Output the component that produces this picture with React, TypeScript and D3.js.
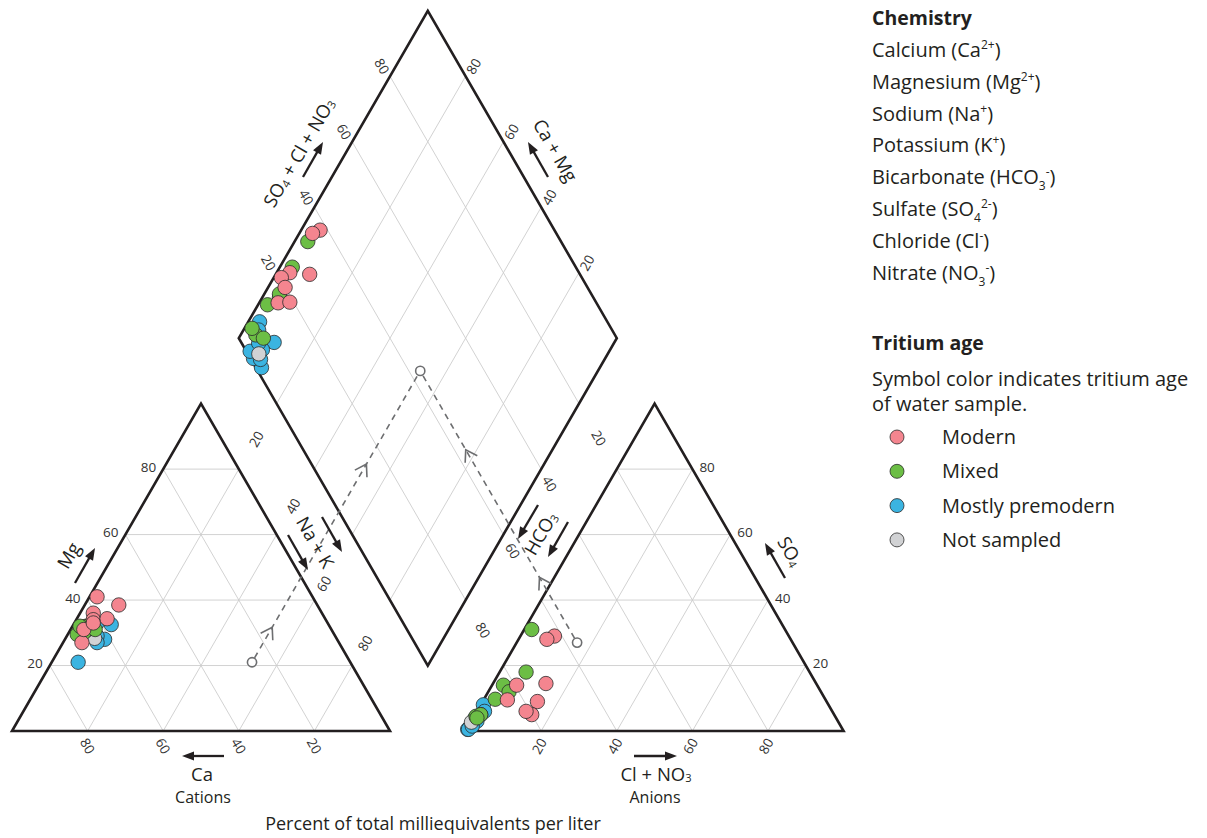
import React from 'react';
import * as d3 from 'd3';

// ---------- DATA ----------
const ageCategories = ['Modern', 'Mixed', 'Mostly premodern', 'Not sampled'];
const ageColors = ['#F4858F', '#6CBE45', '#3BB4E1', '#D1D2D4'];

// sample tritium-age category index (0 Modern, 1 Mixed, 2 Mostly premodern, 3 Not sampled)
const sampleAge = [0, 0, 0, 0, 0, 0, 0, 0, 1, 1, 1, 1, 1, 1, 1, 1, 2, 2, 2, 2, 2, 2, 2, 2, 2, 3];
// cations, percent of meq/L (Ca = 100 - Mg - NaK)
const sampleMg = [27, 36, 31, 38.5, 41, 34, 33, 34.3, 32, 30, 31, 30, 29.5, 32, 31, 32, 32.5, 28, 21, 31, 30, 29, 30, 27, 33, 28.3];
const sampleNaK = [5, 3.5, 3.5, 9, 2, 4.5, 5, 8, 3.5, 3.3, 4.5, 4, 2.5, 4, 6.5, 2, 10, 10.5, 7, 3, 4, 8, 5, 9, 6, 7.7];
// anions, percent of meq/L (HCO3 = 100 - SO4 - Cl)
const sampleSO4 = [29, 28, 9, 14.5, 14, 5, 9.5, 6, 31, 18, 14, 12, 9.7, 4.5, 5, 4, 8, 1, 0.5, 6, 5, 3, 0.5, 1.5, 4, 2.7];
const sampleCl = [9, 7.5, 14.5, 14, 6.5, 15, 6.3, 13, 2, 7, 3, 5.5, 3, 0.5, 1.5, 1, 0.7, 0.5, 0.3, 2, 1.5, 1.5, 0.5, 1, 0.5, 0.2];

// explanatory example point (dashed projection)
const exampleMg = 21;
const exampleNaK = 53;
const exampleSO4 = 27;
const exampleCl = 16;

const gridValues = [20, 40, 60, 80];
const tickLabels = ['20', '40', '60', '80'];

type Seg = { t: string; sup?: boolean; sub?: boolean };
const chemistryItems: Seg[][] = [
  [{ t: 'Calcium (Ca' }, { t: '2+', sup: true }, { t: ')' }],
  [{ t: 'Magnesium (Mg' }, { t: '2+', sup: true }, { t: ')' }],
  [{ t: 'Sodium (Na' }, { t: '+', sup: true }, { t: ')' }],
  [{ t: 'Potassium (K' }, { t: '+', sup: true }, { t: ')' }],
  [{ t: 'Bicarbonate (HCO' }, { t: '3', sub: true }, { t: '-', sup: true }, { t: ')' }],
  [{ t: 'Sulfate (SO' }, { t: '4', sub: true }, { t: '2-', sup: true }, { t: ')' }],
  [{ t: 'Chloride (Cl' }, { t: '-', sup: true }, { t: ')' }],
  [{ t: 'Nitrate (NO' }, { t: '3', sub: true }, { t: '-', sup: true }, { t: ')' }],
];

// ---------- GEOMETRY ----------
const FONT = "'Open Sans', 'Noto Sans', sans-serif";
const INK = '#231F20';
const GRIDC = '#CDCDCD';
const TICKC = '#333333';
const S = 378;
const H = (S * Math.sqrt(3)) / 2;
const GAP = 0.2 * S;
const X0 = 12;
const BASE = 731;
const SIN60 = Math.sqrt(3) / 2;
const LEG = 20;
const TICK = 13.5;
const TITLE = 18.5;

const xL = d3.scaleLinear().domain([0, 100]).range([X0, X0 + S]);
const xR = d3.scaleLinear().domain([0, 100]).range([X0 + S + GAP, X0 + 2 * S + GAP]);
const yT = d3.scaleLinear().domain([0, 100]).range([BASE, BASE - H]);
const dLeft: [number, number] = [X0 + S + GAP / 2 - S / 2, BASE - GAP * SIN60 - H];
const dU = d3.scaleLinear().domain([0, 100]).range([0, S / 2]);
const dV = d3.scaleLinear().domain([0, 100]).range([0, H]);

const cat = (mg: number, nak: number): [number, number] => [xL(nak + mg / 2), yT(mg)];
const ani = (so4: number, cl: number): [number, number] => [xR(cl + so4 / 2), yT(so4)];
const dia = (n: number, a: number): [number, number] => [dLeft[0] + dU(n) + dU(a), dLeft[1] + dV(n) - dV(a)];

function Arrow({ x1, y1, x2, y2 }: { x1: number; y1: number; x2: number; y2: number }) {
  const dx = x2 - x1, dy = y2 - y1, L = Math.hypot(dx, dy), ux = dx / L, uy = dy / L;
  const hl = 12, hw = 4.6;
  const bx = x2 - ux * hl, by = y2 - uy * hl;
  return (
    <g>
      <line x1={x1} y1={y1} x2={bx + ux * 2} y2={by + uy * 2} stroke={INK} strokeWidth={2.3} />
      <path d={`M${x2},${y2}L${bx - uy * hw},${by + ux * hw}L${bx + uy * hw},${by - ux * hw}Z`} fill={INK} />
    </g>
  );
}

function RText({ x, y, angle = 0, size = TICK, fill = TICKC, anchor = 'middle', children }: any) {
  return (
    <text
      transform={`translate(${x},${y}) rotate(${angle})`}
      textAnchor={anchor}
      dominantBaseline="central"
      fontSize={size}
      fill={fill}
      fontFamily={FONT}
    >
      {children}
    </text>
  );
}

function Chevron({ p0, p1, t }: { p0: [number, number]; p1: [number, number]; t: number }) {
  const dx = p1[0] - p0[0], dy = p1[1] - p0[1], L = Math.hypot(dx, dy), ux = dx / L, uy = dy / L;
  const px = p0[0] + dx * t, py = p0[1] + dy * t;
  const back = 11, side = 7;
  const a1 = [px - ux * back - uy * side, py - uy * back + ux * side];
  const a2 = [px - ux * back + uy * side, py - uy * back - ux * side];
  return (
    <path
      d={`M${a1[0]},${a1[1]}L${px},${py}L${a2[0]},${a2[1]}`}
      fill="none"
      stroke="#6D6E70"
      strokeWidth={1.6}
    />
  );
}

export default function App() {
  const order = [2, 3, 1, 0];
  const idx = d3.range(sampleAge.length).sort((a, b) => order.indexOf(sampleAge[a]) - order.indexOf(sampleAge[b]));

  const leftTri = [cat(0, 0), cat(0, 100), cat(100, 0)];
  const rightTri = [ani(0, 0), ani(0, 100), ani(100, 0)];
  const diamond = [dia(0, 0), dia(0, 100), dia(100, 100), dia(100, 0)];
  const poly = (pts: [number, number][]) => 'M' + pts.map((p) => p.join(',')).join('L') + 'Z';

  const grid: [number, number][][] = [];
  gridValues.forEach((v) => {
    grid.push([cat(v, 0), cat(v, 100 - v)]);
    grid.push([cat(0, v), cat(100 - v, v)]);
    grid.push([cat(0, 100 - v), cat(100 - v, 0)]);
    grid.push([ani(v, 0), ani(v, 100 - v)]);
    grid.push([ani(0, v), ani(100 - v, v)]);
    grid.push([ani(0, 100 - v), ani(100 - v, 0)]);
    grid.push([dia(v, 0), dia(v, 100)]);
    grid.push([dia(0, v), dia(100, v)]);
  });

  const up60: [number, number] = [0.5, -SIN60];
  const upL60: [number, number] = [-0.5, -SIN60];
  const leftGapShift = [-3, -5, -19, -12];
  const rightGapShift = [-2, 21, 19, 3];

  const exC = cat(exampleMg, exampleNaK);
  const exA = ani(exampleSO4, exampleCl);
  const exD = dia(exampleNaK, exampleSO4 + exampleCl);
  const trim = (p0: [number, number], p1: [number, number], r: number): [number, number] => {
    const dx = p1[0] - p0[0], dy = p1[1] - p0[1], L = Math.hypot(dx, dy);
    return [p0[0] + (dx / L) * r, p0[1] + (dy / L) * r];
  };

  const sub = (t: string) => (
    <tspan fontSize="0.6em" dy="0.4em">{t}</tspan>
  );
  const back = (t: string) => (
    <tspan dy="-0.24em">{t}</tspan>
  );

  return (
    <svg
      width={1207}
      height={838}
      style={{ position: 'absolute', left: 0, top: 0, background: '#fff' }}
      fontFamily={FONT}
    >
      <rect width={1207} height={838} fill="#fff" />
      <g stroke={GRIDC} strokeWidth={0.9}>
        {grid.map((g, i) => (
          <line key={i} x1={g[0][0]} y1={g[0][1]} x2={g[1][0]} y2={g[1][1]} />
        ))}
      </g>
      <g fill="none" stroke={INK} strokeWidth={2.6} strokeLinejoin="miter">
        <path d={poly(leftTri)} />
        <path d={poly(rightTri)} />
        <path d={poly(diamond)} />
      </g>

      {gridValues.map((v, i) => {
        const mgP = cat(v, 0);
        const so4P = ani(v, 100 - v);
        const caP = cat(0, 100 - v);
        const clP = ani(0, v);
        const tL = cat(100 - v, v);
        const dL = dia(v, 0);
        const mL: [number, number] = [(tL[0] + dL[0]) / 2 + up60[0] * leftGapShift[i], (tL[1] + dL[1]) / 2 + up60[1] * leftGapShift[i]];
        const tR = ani(100 - v, 0);
        const dR = dia(100, 100 - v);
        const mR: [number, number] = [(tR[0] + dR[0]) / 2 + upL60[0] * rightGapShift[i], (tR[1] + dR[1]) / 2 + upL60[1] * rightGapShift[i]];
        const ul = dia(0, v);
        const ur = dia(100 - v, 100);
        return (
          <g key={v}>
            <RText x={mgP[0] - 7} y={mgP[1] - 2.5} anchor="end">{tickLabels[i]}</RText>
            <RText x={caP[0]} y={BASE + 15} angle={60}>{tickLabels[i]}</RText>
            <RText x={clP[0] - 2} y={BASE + 15} angle={-60}>{tickLabels[i]}</RText>
            <RText x={so4P[0] + 7} y={so4P[1] - 2.5} anchor="start">{tickLabels[i]}</RText>
            <RText x={mL[0]} y={mL[1]} angle={-60}>{tickLabels[i]}</RText>
            <RText x={mR[0]} y={mR[1]} angle={60}>{tickLabels[i]}</RText>
            <RText x={ul[0] - 8} y={ul[1] - 10} angle={60}>{tickLabels[i]}</RText>
            <RText x={ur[0] + 8} y={ur[1] - 10} angle={-60}>{tickLabels[i]}</RText>
          </g>
        );
      })}

      <g stroke="#6D6E70" strokeWidth={1.6} fill="none">
        {(() => {
          const a0 = trim(exC, exD, 5), a1 = trim(exD, exC, 5);
          const b0 = trim(exA, exD, 5), b1 = trim(exD, exA, 5);
          return (
            <>
              <line x1={a0[0]} y1={a0[1]} x2={a1[0]} y2={a1[1]} strokeDasharray="6,5" />
              <line x1={b0[0]} y1={b0[1]} x2={b1[0]} y2={b1[1]} strokeDasharray="6,5" />
            </>
          );
        })()}
        <Chevron p0={exC} p1={exD} t={0.12} />
        <Chevron p0={exC} p1={exD} t={0.68} />
        <Chevron p0={exA} p1={exD} t={0.24} />
        <Chevron p0={exA} p1={exD} t={0.71} />
        {[exC, exA, exD].map((p, i) => (
          <circle key={i} cx={p[0]} cy={p[1]} r={4.6} fill="#fff" />
        ))}
      </g>

      {[0, 1, 2].map((plot) => (
        <g key={plot}>
          {idx.map((i) => {
            const p =
              plot === 0
                ? cat(sampleMg[i], sampleNaK[i])
                : plot === 1
                ? ani(sampleSO4[i], sampleCl[i])
                : dia(sampleNaK[i], sampleSO4[i] + sampleCl[i]);
            return (
              <circle key={i} cx={p[0]} cy={p[1]} r={7.2} fill={ageColors[sampleAge[i]]} stroke="#2B2B2B" strokeWidth={0.8} />
            );
          })}
        </g>
      ))}

      <RText x={68} y={555} angle={-60} size={TITLE} fill={INK}>Mg</RText>
      <Arrow x1={75} y1={583} x2={95} y2={548} />
      <RText x={202} y={773} size={TITLE} fill={INK}>Ca</RText>
      <Arrow x1={224} y1={756} x2={182} y2={756} />
      <RText x={203} y={797} size={16} fill={INK}>Cations</RText>

      <RText x={316} y={542} angle={60} size={TITLE} fill={INK}>Na + K</RText>
      <Arrow x1={288} y1={535} x2={308} y2={570} />
      <Arrow x1={322} y1={517} x2={342} y2={552} />

      <RText x={540} y={533} angle={-60} size={TITLE} fill={INK}>HCO{sub('3')}</RText>
      <Arrow x1={538} y1={505} x2={518} y2={539} />
      <Arrow x1={568} y1={522} x2={548} y2={557} />

      <RText x={791} y={551} angle={60} size={TITLE} fill={INK}>SO{sub('4')}</RText>
      <Arrow x1={785} y1={578} x2={765} y2={543} />

      <RText x={656} y={773} size={TITLE} fill={INK}>Cl + NO{sub('3')}</RText>
      <Arrow x1={634} y1={756} x2={677} y2={756} />
      <RText x={655} y={797} size={16} fill={INK}>Anions</RText>

      <RText x={298} y={152} angle={-60} size={TITLE} fill={INK}>SO{sub('4')}{back(' + Cl + NO')}{sub('3')}</RText>
      <Arrow x1={303} y1={177} x2={323} y2={142} />
      <RText x={556} y={150} angle={60} size={TITLE} fill={INK}>Ca + Mg</RText>
      <Arrow x1={548} y1={177} x2={528} y2={142} />

      <RText x={433} y={823} size={18} fill={INK}>Percent of total milliequivalents per liter</RText>

      <g fontFamily={FONT} fill={INK}>
        <text x={872} y={25} fontSize={19.5} fontWeight="bold">Chemistry</text>
        {chemistryItems.map((segs, i) => (
          <text key={i} x={872} y={57 + i * 31.8} fontSize={LEG}>
            {segs.map((s, j) => {
              const prev = segs[j - 1];
              let dy = 0;
              if (s.sup) dy = prev && prev.sub ? -14 : -8;
              else if (s.sub) dy = 6;
              else if (prev && prev.sup) dy = j >= 2 && segs[j - 2].sub ? 8 : 8;
              else if (prev && prev.sub) dy = -6;
              return (
                <tspan key={j} dy={dy} fontSize={s.sup || s.sub ? 12 : LEG}>
                  {s.t}
                </tspan>
              );
            })}
          </text>
        ))}
        <text x={872} y={350} fontSize={19.5} fontWeight="bold">Tritium age</text>
        <text x={872} y={386} fontSize={LEG}>Symbol color indicates tritium age</text>
        <text x={872} y={411} fontSize={LEG}>of water sample.</text>
        {ageCategories.map((c, i) => (
          <g key={c}>
            <circle cx={897} cy={437 + i * 34.3} r={7} fill={ageColors[i]} stroke="#2B2B2B" strokeWidth={0.8} />
            <text x={942} y={444 + i * 34.3} fontSize={LEG}>{c}</text>
          </g>
        ))}
      </g>
    </svg>
  );
}
